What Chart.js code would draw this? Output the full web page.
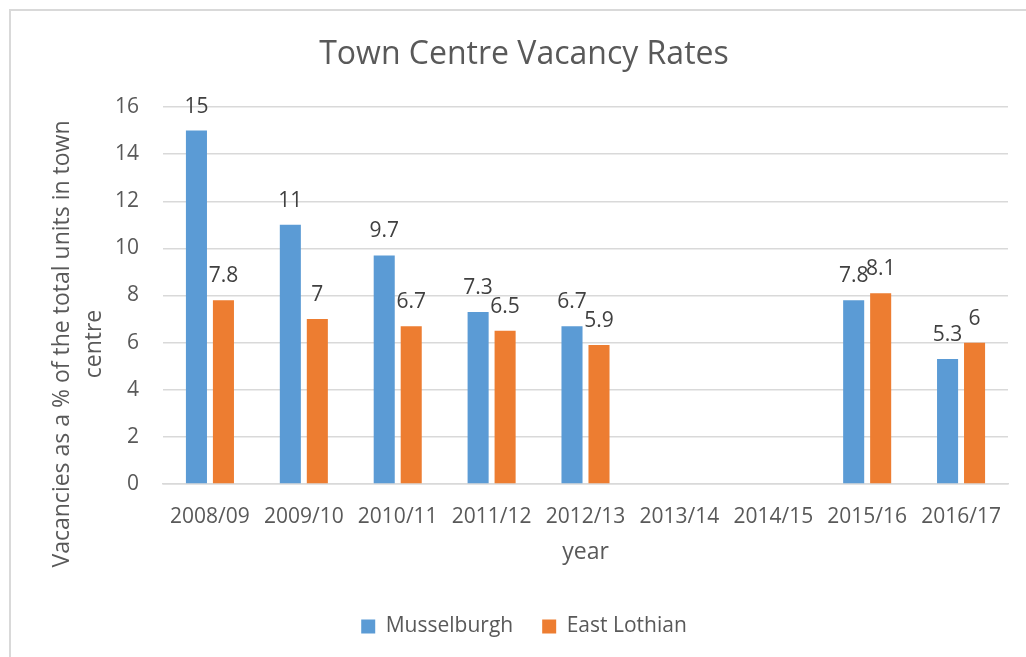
<!DOCTYPE html>
<html>
<head>
<meta charset="utf-8">
<title>Town Centre Vacancy Rates</title>
<script src="https://cdn.jsdelivr.net/npm/chart.js@4.4.1/dist/chart.umd.min.js"></script>
<style>
  html, body { margin: 0; padding: 0; background: #fff; }
  #wrap { position: relative; width: 1026px; height: 657px; overflow: hidden; }
  #frame { position: absolute; left: 9px; top: 9px; width: 1100px; height: 800px;
           border: 2px solid #d9d9d9; box-sizing: border-box; }
  #chart { position: absolute; left: 0; top: 0; }
</style>
</head>
<body>
<div id="wrap">
  <div id="frame"></div>
  <canvas id="chart" width="1026" height="657"></canvas>
</div>
<script>
const years = ['2008/09', '2009/10', '2010/11', '2011/12', '2012/13', '2013/14', '2014/15', '2015/16', '2016/17'];
const musselburgh = [15, 11, 9.7, 7.3, 6.7, null, null, 7.8, 5.3];
const eastLothian = [7.8, 7, 6.7, 6.5, 5.9, null, null, 8.1, 6];
const yTitleLines = ['Vacancies as a % of the total units in town', 'centre'];

const FONT = "'Open Sans', 'DejaVu Sans', sans-serif";
const GREY = '#595959';

// value labels above each bar
const barValues = {
    id: 'barValues',
    afterDatasetsDraw(chart) {
        const ctx = chart.ctx;
        ctx.save();
        ctx.font = '21px ' + FONT;
        ctx.fillStyle = '#404040';
        ctx.textAlign = 'center';
        ctx.textBaseline = 'alphabetic';
        chart.data.datasets.forEach((ds, i) => {
            chart.getDatasetMeta(i).data.forEach((bar, j) => {
                const v = ds.data[j];
                if (v === null) return;
                ctx.fillText(String(v), bar.x, bar.y - 18);
            });
        });
        ctx.restore();
    }
};

// y axis title, placed like the spreadsheet original
const yTitle = {
    id: 'yTitle',
    afterDraw(chart) {
        const ctx = chart.ctx;
        ctx.save();
        ctx.font = '23px ' + FONT;
        ctx.fillStyle = GREY;
        ctx.textAlign = 'center';
        ctx.textBaseline = 'middle';
        ctx.translate(0, 344);
        ctx.rotate(-Math.PI / 2);
        ctx.fillText(yTitleLines[0], 0, 62);
        ctx.fillText(yTitleLines[1], 0, 94);
        ctx.restore();
    }
};

new Chart(document.getElementById('chart'), {
    type: 'bar',
    data: {
        labels: years,
        datasets: [{
            label: 'Musselburgh',
            data: musselburgh,
            backgroundColor: '#5b9bd5',
            categoryPercentage: 0.575,
            barPercentage: 0.78
        }, {
            label: 'East Lothian',
            data: eastLothian,
            backgroundColor: '#ed7d31',
            categoryPercentage: 0.575,
            barPercentage: 0.78
        }]
    },
    options: {
        responsive: false,
        animation: false,
        layout: { padding: { left: 40, right: 18, top: 0, bottom: 10 } },
        plugins: {
            title: {
                display: true,
                text: 'Town Centre Vacancy Rates',
                color: GREY,
                font: { family: FONT, size: 32, weight: 'normal' },
                padding: { top: 36, bottom: 32.6 }
            },
            legend: {
                position: 'bottom',
                labels: {
                    color: GREY,
                    font: { family: FONT, size: 21 },
                    boxWidth: 14,
                    boxHeight: 14,
                    padding: 29
                }
            },
            tooltip: { enabled: false }
        },
        scales: {
            x: {
                grid: { display: false, drawTicks: false },
                border: { color: '#d9d9d9', width: 1.5 },
                ticks: { color: GREY, font: { family: FONT, size: 21 }, padding: 20, maxRotation: 0 },
                title: {
                    display: true,
                    text: 'year',
                    color: GREY,
                    font: { family: FONT, size: 23 },
                    padding: { top: 10, bottom: 21 }
                },
                afterFit(scale) { scale.height = 103; }
            },
            y: {
                min: 0,
                max: 16,
                border: { display: false },
                grid: { color: '#d9d9d9', lineWidth: 1.5, drawTicks: false },
                ticks: { stepSize: 2, color: GREY, font: { family: FONT, size: 21 }, padding: 24 },
                afterFit(scale) { scale.width = 123; }
            }
        }
    },
    plugins: [barValues, yTitle]
});
</script>
</body>
</html>
